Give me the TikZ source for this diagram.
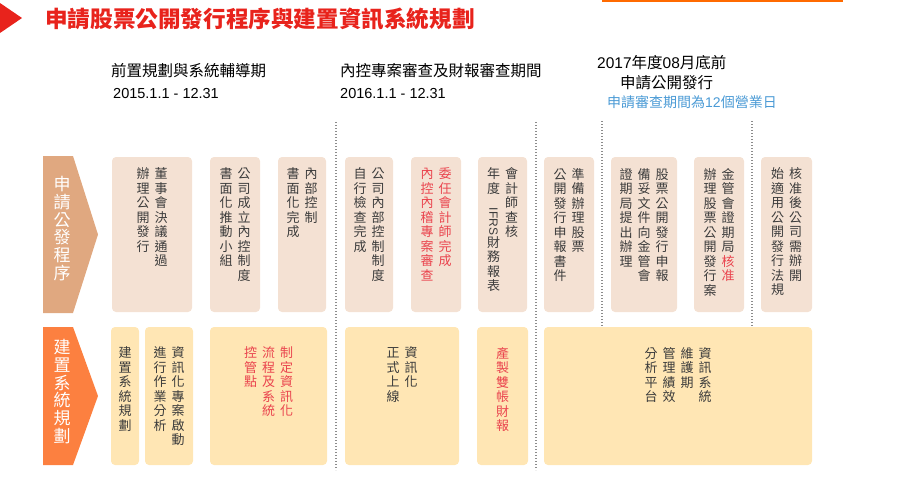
\documentclass[tikz,border=0pt]{standalone}
\usepackage{fontspec}
\setmainfont{Noto Sans CJK TC}
\newfontfamily\arialfont{Liberation Sans}
\usepackage{graphicx}
\usepackage{xcolor}

\definecolor{titlered}{RGB}{232,35,28}
\definecolor{peach}{RGB}{244,225,211}
\definecolor{lightyellow}{RGB}{255,230,180}
\definecolor{tanarrow}{RGB}{224,168,128}
\definecolor{orangearrow}{RGB}{252,128,64}
\definecolor{textgray}{RGB}{60,60,60}
\definecolor{notered}{RGB}{234,68,78}
\definecolor{noteblue}{RGB}{74,154,213}
\definecolor{topline}{RGB}{255,106,0}

% vertical text: one column top to bottom, columns right to left
\ExplSyntaxOn
\NewDocumentCommand\vcol{m}{
  \vtop{\lineskiplimit=0pt \lineskip=1pt
    \tl_map_inline:nn {#1} {\hbox_to_wd:nn {1em} {\hss ##1 \hss}}}
}
\NewDocumentCommand\vcols{m}{
  \seq_set_from_clist:Nn \l_tmpa_seq {#1}
  \seq_reverse:N \l_tmpa_seq
  \hbox:n { \seq_map_inline:Nn \l_tmpa_seq {\vcol{##1}\hskip 5pt} \unskip }
}
\ExplSyntaxOff

\begin{document}
\begin{tikzpicture}[x=1pt, y=-1pt,
    pbox/.style={fill=peach, rounded corners=4pt, inner sep=0pt, minimum height=155},
    ybox/.style={fill=lightyellow, rounded corners=4pt, inner sep=0pt, minimum height=138},
    vtext/.style={inner sep=0pt, anchor=north, text=textgray, font=\fontsize{13}{14.5}\selectfont},
    rowlbl/.style={inner sep=0pt, anchor=north, text=white, font=\fontsize{17}{17.8}\selectfont},
    head/.style={inner sep=0pt, anchor=west, font=\fontsize{15.5}{18}\selectfont},
    datelbl/.style={inner sep=0pt, anchor=west, font=\arialfont\fontsize{14.5}{17}\selectfont},
    sepline/.style={draw=black!45, line width=1.2pt, dash pattern=on 1.2pt off 1.8pt}
]
    \useasboundingbox (0,0) rectangle (900,488);

    % title
    \fill[titlered] (0,3) -- (22,18) -- (0,33) -- cycle;
    \node[inner sep=0pt, anchor=west, text=titlered, font=\bfseries\fontsize{22.6}{26}\selectfont] (title) at (45,19.5) {申請股票公開發行程序與建置資訊系統規劃};
    \draw[topline, line width=2pt] (602,0.5) -- (843,0.5);

    % period headers
    \node[head] (h1) at (111,71) {前置規劃與系統輔導期};
    \node[datelbl] (d1) at (113,94) {2015.1.1 - 12.31};
    \node[head] (h2) at (340,71) {內控專案審查及財報審查期間};
    \node[datelbl] (d2) at (340,94) {2016.1.1 - 12.31};
    \node[head] (h3) at (597,63) {{\arialfont 2017}年度{\arialfont 08}月底前};
    \node[head] (h3b) at (620,83) {申請公開發行};
    \node[head, text=noteblue, font=\fontsize{14}{17}\selectfont] (note) at (607,102) {申請審查期間為{\arialfont 12}個營業日};

    % dotted separators
    \draw[sepline] (336,122) -- (336,470);
    \draw[sepline] (536,122) -- (536,470);
    \draw[sepline] (602,121) -- (602,330);
    \draw[sepline] (752,121) -- (752,330);

    % row labels
    \fill[tanarrow] (43,156) -- (73,156) -- (98,234.5) -- (73,313) -- (43,313) -- cycle;
    \node[rowlbl] (lbl1) at (62,176) {\vcol{申請公發程序}};
    \fill[orangearrow] (43,327) -- (73,327) -- (98,396) -- (73,465) -- (43,465) -- cycle;
    \node[rowlbl] (lbl2) at (62,339) {\vcol{建置系統規劃}};

    % 申請公發程序
    \node[pbox, minimum width=80] (p1) at (152,234.5) {};
    \node[vtext] (t1) at ([yshift=-11pt]p1.north) {\vcols{董事會決議通過,辦理公開發行}};
    \node[pbox, minimum width=50] (p2) at (235,234.5) {};
    \node[vtext] (t2) at ([yshift=-11pt]p2.north) {\vcols{公司成立內控制度,書面化推動小組}};
    \node[pbox, minimum width=48] (p3) at (302,234.5) {};
    \node[vtext] (t3) at ([yshift=-11pt]p3.north) {\vcols{內部控制,書面化完成}};
    \node[pbox, minimum width=48] (p4) at (369,234.5) {};
    \node[vtext] (t4) at ([yshift=-11pt]p4.north) {\vcols{公司內部控制制度,自行檢查完成}};
    \node[pbox, minimum width=50] (p5) at (436,234.5) {};
    \node[vtext, text=notered] (t5) at ([yshift=-11pt]p5.north) {\vcols{委任會計師完成,內控內稽專案審查}};
    \node[pbox, minimum width=49] (p6) at (502.5,234.5) {};
    \node[vtext] (t6) at ([yshift=-11pt]p6.north) {\vcols{會計師查核,年度{\rotatebox{-90}{\arialfont\fontsize{12}{14}\selectfont IFRS}}財務報表}};
    \node[pbox, minimum width=50] (p7) at (569,234.5) {};
    \node[vtext] (t7) at ([yshift=-11pt]p7.north) {\vcols{準備辦理股票,公開發行申報書件}};
    \node[pbox, minimum width=66] (p8) at (644,234.5) {};
    \node[vtext] (t8) at ([yshift=-11pt]p8.north) {\vcols{股票公開發行申報,備妥文件向金管會,證期局提出辦理}};
    \node[pbox, minimum width=50] (p9) at (719,234.5) {};
    \node[vtext] (t9) at ([yshift=-11pt]p9.north) {\vcols{金管會證期局{\color{notered}核}{\color{notered}准},辦理股票公開發行案}};
    \node[pbox, minimum width=51] (p10) at (786.5,234.5) {};
    \node[vtext] (t10) at ([yshift=-11pt]p10.north) {\vcols{核准後公司需辦開,始適用公開發行法規}};

    % 建置系統規劃
    \node[ybox, minimum width=28] (s1) at (125,396) {};
    \node[vtext] (u1) at ([yshift=-20pt]s1.north) {\vcols{建置系統規劃}};
    \node[ybox, minimum width=48] (s2) at (169,396) {};
    \node[vtext] (u2) at ([yshift=-20pt]s2.north) {\vcols{資訊化專案啟動,進行作業分析}};
    \node[ybox, minimum width=117] (s3) at (268.5,396) {};
    \node[vtext, text=notered] (u3) at ([yshift=-20pt]s3.north) {\vcols{制定資訊化,流程及系統,控管點}};
    \node[ybox, minimum width=114] (s4) at (402,396) {};
    \node[vtext] (u4) at ([yshift=-20pt]s4.north) {\vcols{資訊化,正式上線}};
    \node[ybox, minimum width=51] (s5) at (502.5,396) {};
    \node[vtext, text=notered] (u5) at ([yshift=-20pt]s5.north) {\vcols{產製雙帳財報}};
    \node[ybox, minimum width=268] (s6) at (678,396) {};
    \node[vtext] (u6) at ([yshift=-20pt]s6.north) {\vcols{資訊系統,維護期,管理績效,分析平台}};
\end{tikzpicture}
\end{document}
